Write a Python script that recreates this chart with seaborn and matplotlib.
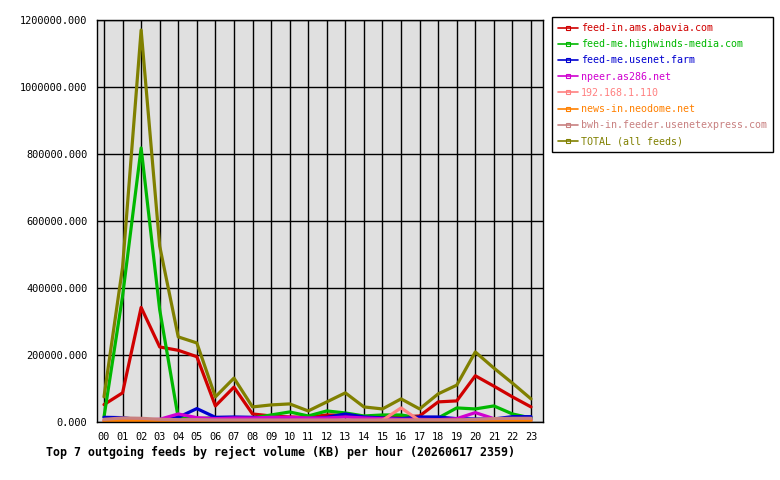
import matplotlib
matplotlib.use("Agg")
import matplotlib.pyplot as plt
from matplotlib.lines import Line2D
from matplotlib.ticker import FuncFormatter
import seaborn as sns
import pandas as pd

hours = [f"{h:02d}" for h in range(24)]

feeds = [
    "feed-in.ams.abavia.com",
    "feed-me.highwinds-media.com",
    "feed-me.usenet.farm",
    "npeer.as286.net",
    "192.168.1.110",
    "news-in.neodome.net",
    "bwh-in.feeder.usenetexpress.com",
    "TOTAL (all feeds)",
]

abavia = [52000, 87000, 342000, 224000, 214000, 195000, 48000, 104000, 24000, 18000, 15000, 14000,
          21000, 20000, 15000, 14000, 15000, 18000, 60000, 63000, 138000, 107000, 75000, 45000]
highwinds = [15000, 376000, 818000, 335000, 12000, 10000, 13000, 10000, 12000, 21000, 30000, 18000,
             33000, 27000, 18000, 21000, 21000, 12000, 12000, 42000, 39000, 48000, 24000, 12000]
usenetfarm = [14000, 13000, 6000, 6000, 14000, 40000, 14000, 15000, 14000, 12000, 11000, 10000,
              14000, 24000, 15000, 12000, 10000, 15000, 15000, 10000, 9000, 9000, 16000, 16000]
npeer = [5000, 5000, 6000, 8000, 24000, 13000, 10000, 12000, 12000, 14000, 14000, 12000,
         12000, 15000, 12000, 10000, 8000, 8000, 7000, 10000, 28000, 10000, 8000, 8000]
local110 = [3000, 3000, 3000, 3000, 3000, 3000, 3000, 3000, 3000, 3000, 3000, 3000,
            3000, 3000, 3000, 5000, 42000, 4000, 3000, 3000, 3000, 3000, 3000, 3000]
neodome = [2000, 4000, 3000, 2000, 2000, 2000, 2000, 2000, 2000, 2000, 2000, 2000,
           2000, 2000, 2000, 3000, 3000, 5000, 5000, 5000, 5000, 5000, 5000, 5000]
usenetexpress = [8000, 12000, 11000, 8000, 7000, 7000, 6000, 6000, 6000, 6000, 6000, 6000,
                 6000, 6000, 6000, 6000, 6000, 6000, 6000, 6000, 8000, 10000, 11000, 11000]
total = [75000, 462000, 1170000, 525000, 254000, 236000, 75000, 131000, 45000, 51000, 54000, 33000,
         60000, 87000, 45000, 39000, 69000, 39000, 84000, 110000, 209000, 161000, 116000, 69000]

series = [abavia, highwinds, usenetfarm, npeer, local110, neodome, usenetexpress, total]
colors = ["#d00000", "#00b800", "#0000d0", "#d000d0", "#ff8080", "#ff8000", "#c88080", "#808000"]

rows = []
for name, vals in zip(feeds, series):
    for i, v in enumerate(vals):
        rows.append({"hour": i, "value": v, "feed": name})
df = pd.DataFrame(rows)

sns.set_theme(style="white")
plt.rcParams["font.family"] = ["DejaVu Sans Mono", "DejaVu Sans"]

fig = plt.figure(figsize=(7.8, 4.8), dpi=100)
ax = fig.add_axes([97 / 780, 58 / 480, 446 / 780, 402 / 480])
ax.set_facecolor("#e0e0e0")

sns.lineplot(data=df, x="hour", y="value", hue="feed", hue_order=feeds,
             palette=dict(zip(feeds, colors)), linewidth=2.3, legend=False, ax=ax, sort=False)

ax.set_xlim(-0.377, 23.646)
ax.set_ylim(0, 1200000)
ax.set_xticks(range(24))
ax.set_xticklabels(hours)
ax.set_yticks(range(0, 1200001, 200000))
ax.yaxis.set_major_formatter(FuncFormatter(lambda v, p: f"{v:.3f}"))
ax.grid(True, color="black", linewidth=1.0)
ax.set_axisbelow(True)
for s in ax.spines.values():
    s.set_color("black")
    s.set_linewidth(1.0)
ax.tick_params(axis="both", direction="out", length=4, width=1, color="black",
               labelsize=7.4, labelcolor="black", pad=3)
ax.set_xlabel("")
ax.set_ylabel("")

handles = [Line2D([0], [0], color=c, linewidth=1.2, marker="s", markersize=2.5,
                  markerfacecolor="none", markeredgecolor=c, markeredgewidth=0.8)
           for c in colors]
leg = fig.legend(handles, feeds, loc="upper left", bbox_to_anchor=(552 / 780, 1 - 17 / 480),
                 fontsize=7.2, frameon=True, fancybox=False, framealpha=1,
                 edgecolor="black", handlelength=2.0, handletextpad=0.3,
                 labelspacing=0.62, borderpad=0.6, borderaxespad=0)
leg.get_frame().set_linewidth(1.0)
for t, c in zip(leg.get_texts(), colors):
    t.set_color(c)

fig.text(46 / 780, 1 - 452 / 480,
         "Top 7 outgoing feeds by reject volume (KB) per hour (20260617 2359)",
         fontsize=8.4, fontweight="bold", color="black", va="center", ha="left")

fig.savefig("out.png", dpi=100, facecolor="white")
